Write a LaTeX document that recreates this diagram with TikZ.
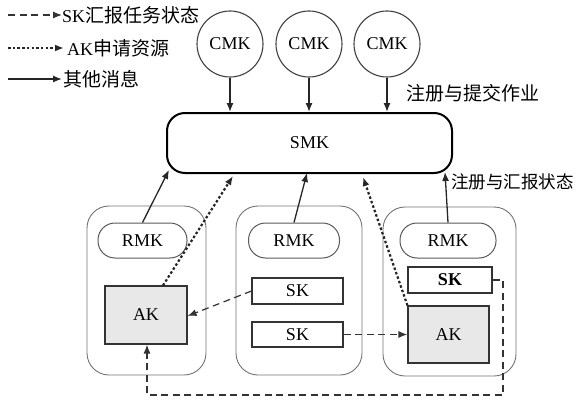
\documentclass[tikz,border=0pt]{standalone}
\usepackage{fontspec}
\setmainfont{Liberation Serif}
\newfontfamily\cjk{Noto Sans CJK SC}
\usetikzlibrary{arrows.meta}
\newcommand{\latinsize}{\fontsize{18}{21}\selectfont}
\newcommand{\cjksize}{\fontsize{19}{22}\selectfont}
\newcommand{\cjksmall}{\fontsize{17.5}{21}\selectfont}
\tikzset{
  tip/.style={-{Latex[length=9pt,width=7pt]}},
  solidmsg/.style={tip, line width=1.3pt, black!85},
  skmsg/.style={tip, line width=1.2pt, black!80, dash pattern=on 7pt off 4.5pt},
  akmsg/.style={tip, line width=2.2pt, black!85, dash pattern=on 2.5pt off 2.2pt},
  cmknode/.style={circle, draw=black!75, line width=1.1pt, minimum size=66pt, inner sep=0pt, font=\latinsize},
  smknode/.style={rectangle, rounded corners=18pt, draw=black, line width=2pt, minimum width=285pt, minimum height=60pt, font=\latinsize},
  hostbox/.style={rectangle, rounded corners=22pt, draw=black!55, line width=0.9pt},
  rmknode/.style={rectangle, rounded corners=17pt, draw=black!65, line width=1pt, minimum height=35pt, font=\latinsize},
  sknode/.style={rectangle, draw=black!80, line width=1.1pt, minimum height=26pt, inner sep=0pt, font=\latinsize},
  aknode/.style={rectangle, draw=black!80, fill=black!9, line width=1.1pt, inner sep=0pt, font=\latinsize},
  label/.style={font=\cjksize\cjk, inner sep=0pt, anchor=west},
}
\begin{document}
\begin{tikzpicture}[x=1pt,y=-1pt]
\useasboundingbox (0,0) rectangle (578,404);

% legend
\coordinate (l1a) at (8,15);  \coordinate (l1b) at (62,15);
\coordinate (l2a) at (8,48);  \coordinate (l2b) at (64,48);
\coordinate (l3a) at (8,79);  \coordinate (l3b) at (62,79);
\draw[skmsg] (l1a) -- (l1b);
\draw[akmsg] (l2a) -- (l2b);
\draw[solidmsg] (l3a) -- (l3b);
\node[label] (t1) at (62,15) {{\rmfamily\latinsize SK}汇报任务状态};
\node[label] (t2) at (67,48) {{\rmfamily\latinsize AK}申请资源};
\node[label] (t3) at (63,79) {其他消息};

% CMK nodes and SMK
\node[cmknode] (cmk1) at (230,44) {CMK};
\node[cmknode] (cmk2) at (309,44) {CMK};
\node[cmknode] (cmk3) at (387,44) {CMK};
\node[smknode] (smk) at (309.5,143) {SMK};

% host containers
\node[hostbox, minimum width=119pt, minimum height=169pt] (h1) at (146.5,290.5) {};
\node[hostbox, minimum width=126pt, minimum height=169pt] (h2) at (299,290.5) {};
\node[hostbox, minimum width=133pt, minimum height=169pt] (h3) at (449.5,291.5) {};

% RMK nodes
\node[rmknode, minimum width=89pt] (rmk1) at (142.5,240.5) {RMK};
\node[rmknode, minimum width=91pt] (rmk2) at (294,240.5) {RMK};
\node[rmknode, minimum width=96pt] (rmk3) at (448,240.5) {RMK};

% AK and SK nodes
\node[aknode, minimum width=82pt, minimum height=58pt] (ak1) at (146,315) {AK};
\node[sknode, minimum width=91pt] (sk2a) at (297.5,291) {SK};
\node[sknode, minimum width=91pt, minimum height=25pt] (sk2b) at (297.5,334.5) {SK};
\node[sknode, minimum width=84pt, font=\latinsize\bfseries] (sk3) at (450,280) {SK};
\node[aknode, minimum width=81pt, minimum height=57pt] (ak3) at (448.5,334.5) {AK};

% labels
\node[label] (lab1) at (406,93) {注册与提交作业};
\node[label, font=\cjksmall\cjk] (lab2) at (451,182) {注册与汇报状态};

% CMK -> SMK
\draw[solidmsg] (cmk1.south) -- (cmk1.south |- smk.north);
\draw[solidmsg] (cmk2.south) -- (cmk2.south |- smk.north);
\draw[solidmsg] (cmk3.south) -- (cmk3.south |- smk.north);

% RMK -> SMK
\coordinate (s1) at (169,170);
\coordinate (s2) at (307,173);
\coordinate (s3) at (445,172);
\draw[solidmsg] (rmk1.north) -- (s1);
\draw[solidmsg] (rmk2.north) -- (s2);
\draw[solidmsg] (rmk3.north) -- (s3);

% AK resource requests
\coordinate (s4) at (233,176);
\coordinate (s5) at (363,177);
\draw[akmsg] (ak1.north) ++(17,0) coordinate (ak1t) -- (s4);
\draw[akmsg] (ak3.north west) -- (s5);

% SK status reports
\draw[skmsg] (sk2a.west) -- ([yshift=-1pt]ak1.east);
\draw[skmsg] (sk2b.east) -- (sk2b.east -| ak3.west);
\coordinate (c1) at (503,280);
\coordinate (c2) at (503,395);
\coordinate (c3) at (147,395);
\draw[skmsg] (sk3.east) -- (c1) -- (c2) -- (c3) -- (c3 |- ak1.south);
\end{tikzpicture}
\end{document}
